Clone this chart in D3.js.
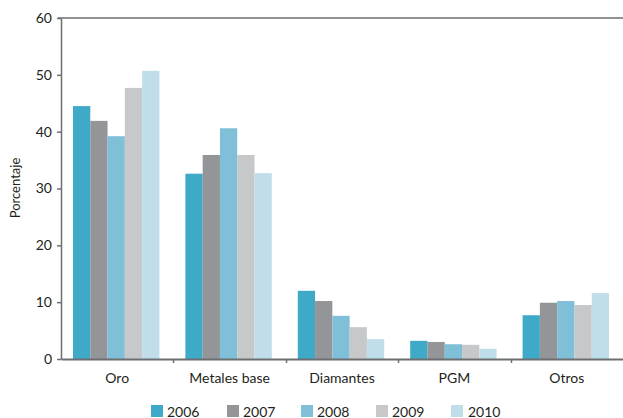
<!DOCTYPE html>
<html><head><meta charset="utf-8">
<script src="https://cdn.jsdelivr.net/npm/d3@7"></script>
<style>body{margin:0;background:#fff}svg{display:block}text{font-family:Lato,"Open Sans",sans-serif;fill:#231f20}</style>
</head><body><svg id="c" width="623" height="418"></svg>
<script>
const categories = ["Oro","Metales base","Diamantes","PGM","Otros"];
const years = ["2006","2007","2008","2009","2010"];
const v2006 = [44.5, 32.6, 12.0, 3.2, 7.7];
const v2007 = [41.9, 35.9, 10.2, 3.0, 9.9];
const v2008 = [39.2, 40.6, 7.6, 2.6, 10.2];
const v2009 = [47.7, 35.9, 5.6, 2.5, 9.5];
const v2010 = [50.7, 32.7, 3.5, 1.8, 11.6];
const yTicks = [0,10,20,30,40,50,60];
const colors = ["#3fa9c8","#939598","#80bfd8","#c7c8ca","#bfdeea"];
const series = [v2006,v2007,v2008,v2009,v2010];

const svg = d3.select("#c");
const mLeft = 61, mRight = 623, mTop = 18, mBottom = 359;
const x0 = d3.scaleBand().domain(categories).range([mLeft, mRight]).padding(0);
const x1 = d3.scaleBand().domain(years).range([12, x0.bandwidth()-14]).padding(0);
const y = d3.scaleLinear().domain([0,60]).range([mBottom, mTop]);
const axisColor = "#6d6e71";

// bars
categories.forEach((c, ci) => {
  years.forEach((yr, si) => {
    svg.append("rect")
      .attr("x", x0(c) + x1(yr))
      .attr("y", y(series[si][ci]))
      .attr("width", x1.bandwidth())
      .attr("height", y(0) - y(series[si][ci]))
      .attr("fill", colors[si]);
  });
});

// top frame line
svg.append("line").attr("x1", mLeft-3).attr("x2", mRight).attr("y1", mTop).attr("y2", mTop)
  .attr("stroke", axisColor).attr("stroke-width", 1.5);

// y axis
const ya = svg.append("g").attr("transform", `translate(${mLeft},0)`)
  .call(d3.axisLeft(y).tickValues(yTicks).tickSize(4).tickSizeOuter(0).tickPadding(5));
ya.select(".domain").attr("stroke", axisColor).attr("stroke-width", 1.5);
ya.selectAll(".tick line").attr("stroke", axisColor).attr("stroke-width", 1.5);
ya.selectAll("text").style("font-size","14px").style("font-family","Lato, sans-serif").attr("fill","#231f20");

// x axis
const xa = svg.append("g").attr("transform", `translate(0,${mBottom})`)
  .call(d3.axisBottom(x0).tickSize(0).tickSizeOuter(0).tickPadding(14));
xa.select(".domain").attr("stroke", axisColor).attr("stroke-width", 2);
xa.selectAll("text").style("font-size","14px").style("font-family","Lato, sans-serif").attr("fill","#231f20");
// boundary ticks
svg.selectAll(".xb").data(categories.slice(1)).enter().append("line")
  .attr("x1", d => Math.round(x0(d))+0.5).attr("x2", d => Math.round(x0(d))+0.5)
  .attr("y1", mBottom).attr("y2", mBottom+4)
  .attr("stroke", axisColor).attr("stroke-width", 1.5);

// y title
svg.append("text").attr("transform","translate(20,188) rotate(-90)")
  .attr("text-anchor","middle").style("font-size","13px").text("Porcentaje");

// legend
const lx = [151, 227, 301, 376, 451];
const lg = svg.selectAll(".lg").data(years).enter().append("g")
  .attr("transform", (d,i) => `translate(${lx[i]},405)`);
lg.append("rect").attr("width",12).attr("height",12).attr("fill",(d,i)=>colors[i]);
lg.append("text").attr("x", (d,i)=> i===4 ? 17 : 16).attr("y", 11.5).style("font-size","14px").text(d=>d);
</script></body></html>
